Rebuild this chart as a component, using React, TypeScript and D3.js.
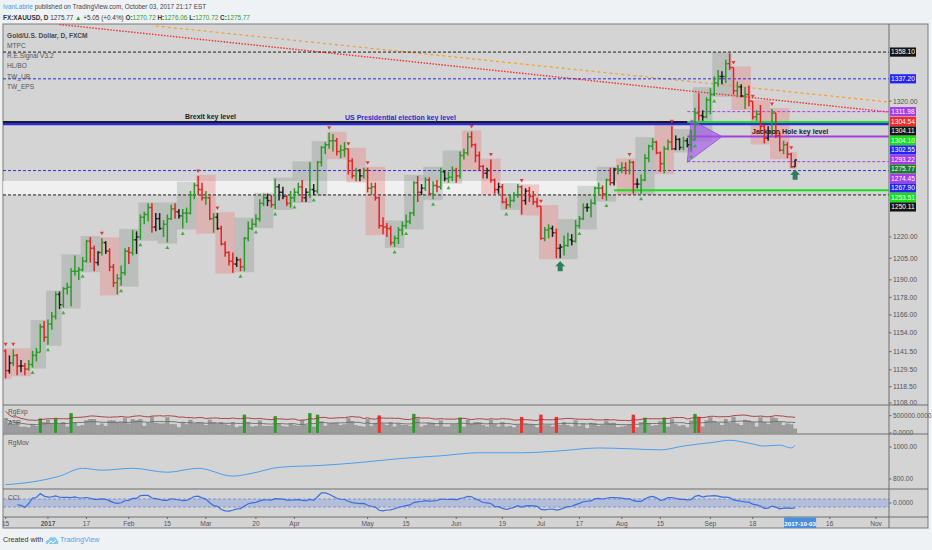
import * as d3 from "d3"

// ---------- data ----------
const startDate = "2016-12-15"
const closedDays = ["2016-12-26", "2017-01-02", "2017-04-14"]
const firstOpen = 1142

// daily bars, Dec 15 2016 .. Oct 3 2017
const closes = [
  1129, 1134, 1139, 1132, 1132, 1130, 1133, 1139, 1141, 1158, 1151,
  1160, 1165, 1180, 1173, 1184, 1185, 1196, 1196, 1197, 1203, 1217, 1212, 1202, 1209, 1216, 1210, 1199, 1188, 1191, 1195, 1210,
  1209, 1218, 1220, 1234, 1236, 1241, 1227, 1233, 1226, 1229, 1233, 1240, 1238, 1235, 1237, 1237, 1250, 1257, 1254, 1248,
  1248, 1233, 1234, 1226, 1215, 1209, 1203, 1201, 1204, 1199, 1219, 1226, 1229, 1233, 1244, 1248, 1246, 1243, 1256, 1252, 1249, 1244, 1248,
  1252, 1256, 1248, 1252, 1254, 1253, 1274, 1285, 1287, 1290, 1290, 1282, 1283, 1284, 1275, 1264, 1268, 1264, 1268,
  1255, 1256, 1248, 1228, 1227, 1226, 1216, 1219, 1225, 1228, 1231, 1237, 1259, 1252, 1255, 1261, 1251, 1257, 1256, 1267, 1262, 1263, 1268,
  1264, 1279, 1281, 1293, 1287, 1279, 1271, 1266, 1268, 1261, 1254, 1256, 1245, 1243, 1246, 1250, 1256, 1246, 1253, 1249, 1245, 1242,
  1219, 1225, 1226, 1223, 1212, 1213, 1214, 1218, 1217, 1228, 1233, 1241, 1241, 1244, 1255, 1255, 1251, 1261, 1259, 1269, 1269,
  1270, 1268, 1274, 1258, 1258, 1261, 1277, 1286, 1289, 1281, 1273, 1284, 1289, 1284, 1291, 1285, 1290, 1287, 1291, 1311, 1309, 1308, 1321,
  1325, 1334, 1339, 1339, 1349, 1346, 1328, 1331, 1324, 1325, 1320, 1308, 1310, 1301, 1292, 1297, 1311, 1294, 1283, 1287, 1280,
  1270.72, 1275.77,
]
const highs = [
  1143, 1139, 1143, 1140, 1136, 1134, 1136, 1142, 1144, 1160, 1162,
  1163, 1168, 1182, 1182, 1185, 1188, 1198, 1207, 1199, 1206, 1218, 1220, 1214, 1210, 1219, 1217, 1212, 1201, 1194, 1200, 1212,
  1213, 1225, 1224, 1236, 1238, 1244, 1244, 1237, 1237, 1232, 1236, 1243, 1244, 1240, 1240, 1241, 1253, 1259, 1264, 1259,
  1253, 1249, 1237, 1237, 1228, 1217, 1210, 1209, 1206, 1205, 1220, 1231, 1233, 1236, 1247, 1251, 1251, 1250, 1262, 1258, 1256, 1250, 1253,
  1255, 1259, 1261, 1255, 1274, 1258, 1275, 1286, 1289, 1296, 1295, 1292, 1287, 1289, 1284, 1277, 1270, 1269, 1270,
  1270, 1259, 1259, 1249, 1234, 1230, 1228, 1221, 1227, 1231, 1236, 1238, 1260, 1264, 1258, 1263, 1263, 1260, 1261, 1270, 1268, 1267, 1271,
  1270, 1282, 1284, 1296, 1297, 1288, 1282, 1272, 1270, 1276, 1262, 1259, 1258, 1248, 1250, 1252, 1258, 1257, 1255, 1256, 1253, 1248,
  1242, 1227, 1229, 1228, 1226, 1215, 1221, 1223, 1222, 1232, 1235, 1244, 1244, 1247, 1256, 1259, 1257, 1262, 1270, 1270, 1272,
  1274, 1274, 1276, 1275, 1262, 1265, 1280, 1287, 1292, 1290, 1282, 1286, 1291, 1301, 1294, 1292, 1293, 1292, 1298, 1315, 1326, 1313, 1323,
  1330, 1339, 1344, 1343, 1352, 1357, 1346, 1335, 1333, 1331, 1332, 1320, 1313, 1317, 1302, 1301, 1314, 1311, 1296, 1290, 1289,
  1281, 1276.06,
]
const lows = [
  1124, 1127, 1132, 1126, 1128, 1126, 1129, 1131, 1135, 1141, 1148,
  1146, 1156, 1163, 1170, 1171, 1180, 1172, 1193, 1190, 1196, 1202, 1202, 1196, 1200, 1207, 1208, 1196, 1185, 1180, 1186, 1193,
  1201, 1207, 1208, 1218, 1229, 1231, 1223, 1224, 1225, 1220, 1216, 1232, 1233, 1233, 1226, 1230, 1236, 1247, 1250, 1246,
  1243, 1232, 1223, 1225, 1214, 1206, 1200, 1195, 1199, 1196, 1196, 1217, 1225, 1227, 1231, 1242, 1242, 1241, 1240, 1246, 1247, 1242, 1241,
  1245, 1250, 1245, 1245, 1248, 1250, 1251, 1271, 1280, 1284, 1282, 1279, 1277, 1278, 1265, 1262, 1260, 1260, 1262,
  1252, 1250, 1246, 1226, 1222, 1220, 1214, 1213, 1215, 1221, 1226, 1229, 1235, 1245, 1250, 1253, 1250, 1247, 1252, 1254, 1260, 1259, 1260,
  1259, 1262, 1276, 1279, 1285, 1274, 1268, 1262, 1262, 1259, 1251, 1251, 1244, 1240, 1241, 1245, 1248, 1236, 1243, 1245, 1243, 1241,
  1218, 1217, 1219, 1220, 1205, 1205, 1207, 1213, 1214, 1216, 1226, 1232, 1238, 1234, 1243, 1250, 1247, 1246, 1257, 1257, 1265,
  1266, 1265, 1265, 1251, 1255, 1251, 1260, 1274, 1283, 1280, 1267, 1266, 1283, 1283, 1283, 1283, 1283, 1285, 1282, 1290, 1305, 1305, 1307,
  1310, 1324, 1331, 1333, 1334, 1344, 1325, 1323, 1323, 1314, 1316, 1306, 1305, 1297, 1288, 1290, 1294, 1292, 1282, 1280, 1277,
  1270, 1270.72,
]

// RgMov indicator, read at a few dates
const rgMovDates = [
  "2016-12-15", "2016-12-27", "2017-01-06", "2017-01-16", "2017-01-23", "2017-02-02", "2017-02-15", "2017-02-27",
  "2017-03-10", "2017-03-17", "2017-03-28", "2017-04-12", "2017-04-27", "2017-05-11", "2017-05-26", "2017-06-09",
  "2017-06-26", "2017-07-10", "2017-07-24", "2017-08-04", "2017-08-15", "2017-08-23", "2017-09-04", "2017-09-08",
  "2017-09-15", "2017-09-21", "2017-09-27", "2017-10-02", "2017-10-03",
]
const rgMovValues = [
  764, 782, 818, 867, 855, 867, 842, 867,
  818, 836, 873, 885, 903, 927, 945, 964,
  964, 976, 994, 988, 982, 1006, 1030, 1042,
  1024, 1006, 1012, 994, 1012,
]

const xTickDates = [
  "2016-12-15", "2017-01-03", "2017-01-17", "2017-02-01", "2017-02-15", "2017-03-01", "2017-03-20", "2017-04-03",
  "2017-05-01", "2017-05-15", "2017-06-01", "2017-06-19", "2017-07-03", "2017-07-17", "2017-08-01", "2017-08-15",
  "2017-09-01", "2017-09-18", "2017-10-16", "2017-11-01",
]
const xTickLabels = ["15", "2017", "17", "Feb", "15", "Mar", "20", "Apr", "May", "15", "Jun", "19", "Jul", "17", "Aug", "15", "Sep", "18", "16", "Nov"]
const cursorDate = "2017-10-03"

const priceTicks = [1320, 1220, 1205, 1190, 1178, 1166, 1154, 1141.5, 1129.5, 1118.5, 1108]

// horizontal levels drawn on the chart
const levelValues = [1358.1, 1337.2, 1311.98, 1304.11, 1302.55, 1304.1, 1293.22, 1274.45, 1267.9, 1253.51, 1250.11]
const levelStart = [null, null, "2017-08-24", null, null, "2017-08-24", "2017-08-24", "2017-08-24", null, "2017-07-28", null]

// price tags on the right axis
const tagValues = [1358.1, 1337.2, 1311.98, 1304.54, 1304.11, 1304.1, 1302.55, 1293.22, 1275.77, 1274.45, 1267.9, 1253.51, 1250.11]

// drawings: trendlines [date, price]
const redTrend: [string, number][] = [["2017-01-06", 1380], ["2017-11-06", 1311.8]]
const orangeTrend: [string, number][] = [["2017-02-10", 1378.8], ["2017-11-06", 1319.4]]
const purpleTriangle: [string, number][] = [["2017-08-25", 1305.7], ["2017-09-06", 1293.2], ["2017-08-24", 1274]]
const whiteBand = { from: "2016-12-15", to: "2017-07-28", top: 1260.3, bottom: 1250.11 }
const signalDates = ["2017-07-10", "2017-10-03"]

// ---------- styles ----------
const W = 932
const H = 550
const L = 3
const AX = 889
const R = 928
const PT = 24
const PB = 405
const AB = 434
const MB = 489
const CB = 517
const XB = 528
const BG = "#d4d4d4"
const GREEN = "#2b9a2b"
const RED = "#e02424"
const FONT = "'Liberation Sans', Arial, sans-serif"

const LEVEL_STYLE = [
  { c: "#1c1c1c", w: 1, d: "3,2" },
  { c: "#2f2fe0", w: 1, d: "3,2" },
  { c: "#a23fe0", w: 1, d: "3,2" },
  { c: "#1c1c1c", w: 2.2, d: "" },
  { c: "#2a2ae6", w: 2.2, d: "" },
  { c: "#18e018", w: 2, d: "" },
  { c: "#a23fe0", w: 2, d: "" },
  { c: "#a23fe0", w: 1, d: "3,2" },
  { c: "#2f2fe0", w: 1, d: "3,2" },
  { c: "#18e018", w: 2, d: "" },
  { c: "#1c1c1c", w: 1, d: "3,2" },
]
const TAG_COLORS = ["#141414", "#2424f0", "#a63be8", "#f52a2a", "#141414", "#14e014", "#2424f0", "#a63be8", "#1d7a2e", "#a63be8", "#2424f0", "#14e014", "#141414"]

// ---------- derived ----------
const fmt = d3.utcFormat("%Y-%m-%d")
const parse = (s: string) => new Date(s + "T00:00:00Z")
const dates: string[] = []
for (let d = parse(startDate); dates.length < 240; d = d3.utcDay.offset(d, 1)) {
  const wd = d.getUTCDay()
  const s = fmt(d)
  if (wd === 0 || wd === 6 || closedDays.includes(s)) continue
  dates.push(s)
}
const idx = new Map(dates.map((s, i) => [s, i] as [string, number]))
const ix = (s: string) => idx.get(s) ?? 0

type Bar = { i: number; date: string; o: number; h: number; l: number; c: number }
const bars: Bar[] = closes.map((c, i) => ({
  i, date: dates[i], o: i ? closes[i - 1] : firstOpen, h: highs[i], l: lows[i], c,
}))

const x = d3.scaleLinear().domain([0, 226]).range([5.6, 876])
const y = d3.scaleLog().domain([1106.7, 1380.4]).range([PB, PT])

const weeks = d3.groups(bars, b => fmt(d3.utcMonday.floor(parse(b.date)))).map(([, bs]) => {
  const hiBar = bs.reduce((a, b) => (b.h > a.h ? b : a))
  const loBar = bs.reduce((a, b) => (b.l < a.l ? b : a))
  return { first: bs[0].i, last: bs[bs.length - 1].i, hi: hiBar.h, lo: loBar.l, hiBar, loBar, up: bs[bs.length - 1].c >= bs[0].o }
})

// range expansion pane
const ranges = bars.map(b => b.h - b.l)
const avgRange = ranges.map((_, i) => d3.mean(ranges.slice(Math.max(0, i - 13), i + 1))!)
const yA = d3.scaleLinear().domain([0, 34]).range([AB - 1, PB + 2])
const yVol = d3.scaleLinear().domain([0, 750000]).range([AB - 1, PB + 2])

// CCI(20)
const tp = bars.map(b => (b.h + b.l + b.c) / 3)
const cci = tp.map((v, i) => {
  if (i < 3) return null
  const win = tp.slice(Math.max(0, i - 19), i + 1)
  const m = d3.mean(win)!
  const md = d3.mean(win, w => Math.abs(w - m))!
  return md ? (v - m) / (0.015 * md) : 0
})
const yC = d3.scaleLinear().domain([-100, 100]).range([507, 499])
const yM = d3.scaleLinear().domain([800, 1000]).range([479, 447])

const tagH = 9.5
let lastTag = -Infinity
const tags = tagValues
  .map((v, k) => ({ v, color: TAG_COLORS[k] }))
  .sort((a, b) => b.v - a.v)
  .map(t => {
    let ty = y(t.v)
    if (ty < lastTag + tagH) ty = lastTag + tagH
    lastTag = ty
    return { ...t, y: ty }
  })

const trendPath = (pts: [string, number][]) => {
  const [a, b] = pts
  return `M${x(ix(a[0]))},${y(a[1])}L${x(ix(b[0]))},${y(b[1])}`
}

export default function App() {
  const barColor = (b: Bar) => {
    const p = bars[b.i - 1]
    if (p && b.h <= p.h && b.l >= p.l) return "#1e1e1e"
    return b.c >= b.o ? GREEN : RED
  }
  const cciLine = d3
    .line<number | null>()
    .defined(v => v !== null)
    .x((_, i) => x(i))
    .y(v => Math.max(MB + 2, Math.min(CB - 2, yC(v as number))))
  const movLine = d3
    .line<number>()
    .x((_, k) => x(ix(rgMovDates[k])))
    .y(v => yM(v))
    .curve(d3.curveMonotoneX)
  const avgLine = d3
    .line<number>()
    .x((_, i) => x(i))
    .y(v => yA(v))
  const thrLine = d3
    .line<number>()
    .x((_, i) => x(i))
    .y(v => Math.max(PB + 2, yA(v * 1.5)))
  const cursorX = x(ix(cursorDate)) + 5

  return (
    <svg width={W} height={H} style={{ position: "absolute", left: 0, top: 0, background: "#eff2f5" }} fontFamily={FONT}>
      <defs>
        <clipPath id="price">
          <rect x={L} y={PT} width={AX - L} height={PB - PT} />
        </clipPath>
        <clipPath id="axisClip">
          <rect x={AX} y={PT} width={R - AX} height={PB - PT} />
        </clipPath>
      </defs>

      {/* header */}
      <text x={3} y={9} fontSize={6.4} fill="#444">
        <tspan fill="#3d9be0">IvanLabrie</tspan> published on TradingView.com, October 03, 2017 21:17 EST
      </text>
      <text x={3} y={19.5} fontSize={6.4} fill="#333">
        <tspan fontWeight="bold">FX:XAUUSD, D</tspan>  1275.77 <tspan fill={GREEN}>▲</tspan> +5.05 (+0.4%){" "}
        <tspan fontWeight="bold">O:</tspan><tspan fill={GREEN}>1270.72</tspan>{" "}
        <tspan fontWeight="bold">H:</tspan><tspan fill={GREEN}>1276.06</tspan>{" "}
        <tspan fontWeight="bold">L:</tspan><tspan fill={GREEN}>1270.72</tspan>{" "}
        <tspan fontWeight="bold">C:</tspan><tspan fill={GREEN}>1275.77</tspan>
      </text>

      {/* chart background */}
      <rect x={L} y={PT} width={R - L} height={XB - PT} fill={BG} stroke="#7a7a7a" />

      {/* price pane */}
      <g clipPath="url(#price)">
        <rect
          x={x(ix(whiteBand.from)) - 3}
          y={y(whiteBand.top)}
          width={x(ix(whiteBand.to)) - x(ix(whiteBand.from)) + 6}
          height={y(whiteBand.bottom) - y(whiteBand.top)}
          fill="#fafafa"
          opacity={0.75}
        />
        {weeks.map((w, k) => (
          <rect
            key={k}
            x={x(w.first) - 2}
            y={y(w.hi) - 1}
            width={x(w.last) - x(w.first) + 4}
            height={y(w.lo) - y(w.hi) + 2}
            fill={w.up ? "rgba(100,118,100,0.22)" : "rgba(236,112,112,0.32)"}
          />
        ))}
        <path d={trendPath(orangeTrend)} stroke="#f0a030" strokeWidth={1.2} strokeDasharray="3,3" fill="none" />
        <path d={trendPath(redTrend)} stroke="#ff2a2a" strokeWidth={1.4} strokeDasharray="1.5,1.5" fill="none" />
        {levelValues.map((v, k) => {
          const s = LEVEL_STYLE[k]
          const from = levelStart[k]
          return (
            <line
              key={k}
              x1={from ? x(ix(from)) : L}
              x2={AX}
              y1={y(v)}
              y2={y(v)}
              stroke={s.c}
              strokeWidth={s.w}
              strokeDasharray={s.d || undefined}
            />
          )
        })}
        <polygon
          points={purpleTriangle.map(([d, p]) => `${x(ix(d))},${y(p)}`).join(" ")}
          fill="rgba(160,80,235,0.62)"
          stroke="#9b45e0"
          strokeWidth={0.8}
        />
        {bars.map(b => {
          const cx = x(b.i)
          const col = barColor(b)
          return (
            <g key={b.i} stroke={col} strokeWidth={1.5}>
              <line x1={cx} x2={cx} y1={y(b.h)} y2={y(b.l)} />
              <line x1={cx - 1.8} x2={cx} y1={y(b.o)} y2={y(b.o)} />
              <line x1={cx} x2={cx + 1.8} y1={y(b.c)} y2={y(b.c)} />
            </g>
          )
        })}
        {weeks.map((w, k) =>
          w.up ? (
            <path key={k} d={`M${x(w.loBar.i)},${y(w.lo) + 3}l-2,3.5h4z`} fill="#3fae3f" />
          ) : (
            <path key={k} d={`M${x(w.hiBar.i)},${y(w.hi) - 3}l-2,-3.5h4z`} fill="#e23a3a" />
          )
        )}
        {signalDates.map(d => {
          const b = bars[ix(d)]
          const cx = x(b.i)
          const ty = y(b.l) + 3
          return <path key={d} d={`M${cx},${ty}l5,5h-2.5v5h-5v-5h-2.5z`} fill="#2f7d5c" />
        })}
        <text x={185} y={y(1304.11) - 3} fontSize={7} fontWeight="bold" fill="#222">Brexit key level</text>
        <text x={345} y={y(1304.11) - 1.6} fontSize={7} fontWeight="bold" fill="#2a2ad0">US Presidential election key level</text>
        <text x={752} y={y(1293.22) - 2} fontSize={7} fontWeight="bold" fill="#222">Jackson Hole key level</text>
      </g>

      {/* legend */}
      <g fontSize={6.6} fill="#555">
        <text x={7} y={38} fontWeight="bold" fill="#4a4a4a">Gold/U.S. Dollar, D, FXCM</text>
        <text x={7} y={48}>MTPC</text>
        <text x={7} y={58}>R.E.Signal V3.2</text>
        <text x={7} y={68}>HL/BO</text>
        <text x={7} y={78.5}>TW_UB</text>
        <text x={7} y={88.5}>TW_EPS</text>
      </g>

      {/* price axis */}
      <g clipPath="url(#axisClip)" fontSize={6.8} fill="#555">
        {priceTicks.map(v => (
          <g key={v}>
            <line x1={AX} x2={AX + 2.5} y1={y(v)} y2={y(v)} stroke="#666" />
            <text x={AX + 4} y={y(v) + 2.4}>{v.toFixed(2)}</text>
          </g>
        ))}
      </g>
      {tags.map(t => (
        <g key={t.v}>
          <rect x={AX + 1} y={t.y - 4.6} width={26} height={9.2} fill={t.color} />
          <text x={AX + 14} y={t.y + 2.4} fontSize={6.6} fill="#fff" textAnchor="middle">
            {t.v.toFixed(2)}
          </text>
        </g>
      ))}

      {/* range expansion / ATR pane */}
      <g>
        {bars.map(b => {
          const r = ranges[b.i]
          const thr = b.i > 0 ? avgRange[b.i - 1] * 1.5 : Infinity
          const hot = r > thr
          return (
            <rect
              key={b.i}
              x={x(b.i) - 1.7}
              y={yA(r)}
              width={3.4}
              height={yA(0) - yA(r)}
              fill={hot ? (b.c >= b.o ? "#2e9a2e" : "#ee3030") : "#9c9c9c"}
              stroke={hot ? "none" : "#8a8a8a"}
              strokeWidth={0.4}
            />
          )
        })}
        <path d={avgLine(avgRange) ?? ""} fill="none" stroke="#6a6a6a" strokeWidth={0.9} />
        <path d={thrLine(avgRange) ?? ""} fill="none" stroke="#a83232" strokeWidth={0.9} />
        <text x={8} y={414} fontSize={6.6} fill="#555">RgExp</text>
        <text x={8} y={425} fontSize={6.6} fill="#555">ATR</text>
        <g fontSize={6.6} fill="#555">
          <line x1={AX} x2={AX + 2.5} y1={yVol(500000)} y2={yVol(500000)} stroke="#666" />
          <text x={AX + 4} y={yVol(500000) + 2.4}>500000.0000</text>
          <line x1={AX} x2={AX + 2.5} y1={yVol(0)} y2={yVol(0)} stroke="#666" />
          <text x={AX + 4} y={yVol(0) + 2.4}>0.0000</text>
        </g>
      </g>

      {/* RgMov pane */}
      <g>
        <path d={movLine(rgMovValues) ?? ""} fill="none" stroke="#4b9ef0" strokeWidth={1} />
        <text x={8} y={445} fontSize={6.6} fill="#555">RgMov</text>
        <g fontSize={6.6} fill="#555">
          {[1000, 800].map(v => (
            <g key={v}>
              <line x1={AX} x2={AX + 2.5} y1={yM(v)} y2={yM(v)} stroke="#666" />
              <text x={AX + 4} y={yM(v) + 2.4}>{v.toFixed(2)}</text>
            </g>
          ))}
        </g>
      </g>

      {/* CCI pane */}
      <g>
        <rect x={L} y={yC(100)} width={AX - L} height={yC(-100) - yC(100)} fill="rgba(120,150,225,0.35)" />
        <line x1={L} x2={AX} y1={yC(100)} y2={yC(100)} stroke="#7088c8" strokeDasharray="3,2" strokeWidth={0.8} />
        <line x1={L} x2={AX} y1={yC(-100)} y2={yC(-100)} stroke="#7088c8" strokeDasharray="3,2" strokeWidth={0.8} />
        <path d={cciLine(cci) ?? ""} fill="none" stroke="#3a6ee0" strokeWidth={1.2} />
        <text x={8} y={500} fontSize={6.6} fill="#555">CCI</text>
        <line x1={AX} x2={AX + 2.5} y1={yC(0)} y2={yC(0)} stroke="#666" />
        <text x={AX + 4} y={yC(0) + 2.4} fontSize={6.6} fill="#555">0.0000</text>
      </g>

      {/* pane separators */}
      {[PB, AB, MB, CB].map(py => (
        <line key={py} x1={L} x2={R} y1={py} y2={py} stroke="#6e6e6e" />
      ))}
      <line x1={AX} x2={AX} y1={PT} y2={XB} stroke="#6e6e6e" />

      {/* time axis */}
      <g fontSize={6.6} fill="#555" textAnchor="middle">
        {xTickDates.map((d, k) => (
          <g key={d}>
            <line x1={x(ix(d))} x2={x(ix(d))} y1={CB} y2={CB + 2} stroke="#666" />
            <text x={x(ix(d))} y={526} fontWeight={xTickLabels[k] === "2017" ? "bold" : "normal"}>
              {xTickLabels[k]}
            </text>
          </g>
        ))}
        <rect x={cursorX - 16} y={CB + 0.5} width={32} height={10.5} fill="#4a8fd8" />
        <text x={cursorX} y={526} fill="#fff" fontWeight="bold" fontSize={6.2}>{cursorDate}</text>
      </g>

      {/* footer */}
      <text x={3} y={542} fontSize={7.2} fill="#333">Created with</text>
      <g transform="translate(45,536)">
        <path d="M1,8 Q0,4 3.5,4 Q4.5,0 8,1.5 Q11,0 12,4 Q14,5 13,8 Z" fill="#8cc8ef" />
        <path d="M3,8 L6,5 L8,7 L11,4" stroke="#fff" strokeWidth={1} fill="none" />
      </g>
      <text x={60} y={542} fontSize={7.2} fill="#4aa8e8">TradingView</text>
    </svg>
  )
}
